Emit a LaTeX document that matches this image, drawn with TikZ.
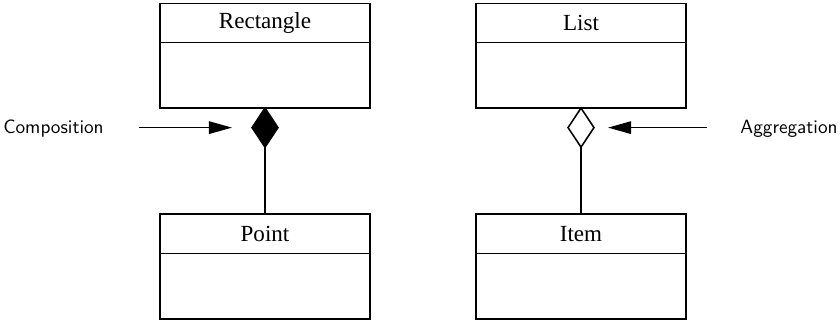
\documentclass[tikz,border=0pt]{standalone}
\usepackage{fontspec}
\setmainfont{Liberation Serif}
\usetikzlibrary{positioning,shapes.geometric,arrows.meta}

\tikzset{
  classhead/.style={draw, line width=0.8pt, minimum width=109pt, minimum height=20.5pt,
                    inner sep=0pt, outer sep=0pt, font=\large},
  classbody/.style={draw, line width=0.8pt, minimum width=109pt, minimum height=34pt,
                    inner sep=0pt, outer sep=0pt},
  relation/.style={draw, shape=diamond, line width=0.8pt, inner sep=0pt, outer sep=0pt,
                   minimum width=13.5pt, minimum height=20.3pt},
  label/.style={font=\sffamily},
  pointer/.style={line width=0.8pt, -{Triangle[length=12pt,width=6.5pt]}},
}

\begin{document}
\begin{tikzpicture}[x=0.52pt, y=-0.52pt]

    \useasboundingbox (0,0) rectangle (840,321);

    % Composition 
    % -----------
    \node[classhead] (recthead) at (265,23) {Rectangle};
    \node[classbody, below=0pt of recthead] (rectbody) {};
    \node[relation, fill=black, below=0pt of rectbody] (comp) {};
    \node[classhead, below=34.8pt of comp] (pointhead) {Point};
    \node[classbody, below=0pt of pointhead] (pointbody) {};

    % Aggregation 
    % -----------
    \node[classhead] (listhead) at (581,23) {List};
    \node[classbody, below=0pt of listhead] (listbody) {};
    \node[relation, fill=white, below=0pt of listbody] (aggr) {};
    \node[classhead, below=34.8pt of aggr] (itemhead) {Item};
    \node[classbody, below=0pt of itemhead] (itembody) {};

    % Draw Paths 
    % ----------
    \draw[line width=0.8pt] (comp.south) -- (pointhead.north);
    \draw[line width=0.8pt] (aggr.south) -- (itemhead.north);

    % Labels
    % ------
    \node[label] (complabel) at (53.5,129) {Composition};
    \node[label] (aggrlabel) at (789,129) {Aggregation};

    \coordinate (compfrom) at ([xshift=15pt]complabel.east |- comp.center);
    \coordinate (compto)   at ([xshift=-10.4pt]comp.west);
    \coordinate (aggrfrom) at ([xshift=-14pt]aggrlabel.west |- aggr.center);
    \coordinate (aggrto)   at ([xshift=7.3pt]aggr.east);
    \draw[pointer] (compfrom) -- (compto);
    \draw[pointer] (aggrfrom) -- (aggrto);

\end{tikzpicture}
\end{document}
